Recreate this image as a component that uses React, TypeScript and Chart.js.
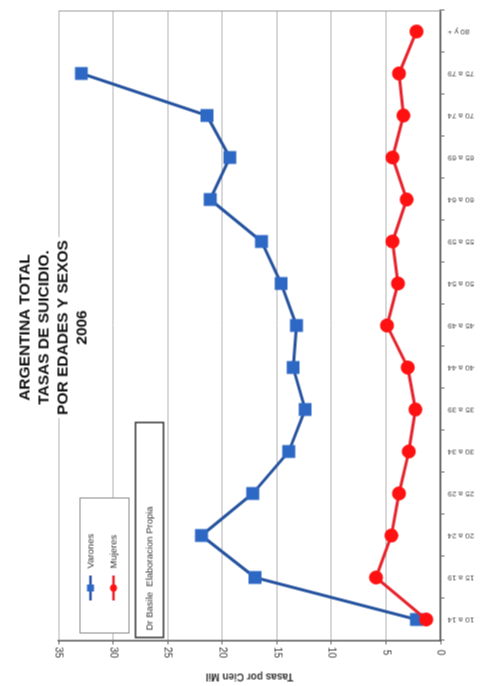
import React, { useEffect, useRef } from "react";
import { Chart, registerables } from "chart.js";

Chart.register(...registerables);

// ---- data ----
const categories = [
  "10 a 14", "15 a 19", "20 a 24", "25 a 29", "30 a 34", "35 a 39", "40 a 44",
  "45 a 49", "50 a 54", "55 a 59", "60 a 64", "65 a 69", "70 a 74", "75 a 79", "80 y +",
];
const varones: (number | null)[] = [2.2, 17.0, 21.9, 17.2, 13.9, 12.4, 13.5, 13.2, 14.6, 16.4, 21.1, 19.3, 21.4, 32.9, null];
const mujeres: number[] = [1.3, 5.9, 4.5, 3.8, 2.9, 2.3, 3.0, 4.9, 3.9, 4.4, 3.1, 4.4, 3.4, 3.8, 2.2];
const seriesNames = ["Varones", "Mujeres"];
const valueMin = 0;
const valueMax = 35;
const valueStep = 5;
const titleLines = ["ARGENTINA TOTAL", "TASAS DE SUICIDIO.", "POR EDADES Y SEXOS", "2006"];
const axisTitle = "Tasas por Cien Mil";
const sourceNote = "Dr Basile  Elaboracion Propia";

const W = 686;
const H = 493;
const FONT = '"Liberation Sans", Arial, Helvetica, sans-serif';

export default function App() {
  const ref = useRef<HTMLCanvasElement>(null);

  useEffect(() => {
    const canvas = ref.current;
    if (!canvas) return;

    const decor = {
      id: "decor",
      beforeDatasetsDraw(chart: any) {
        const { ctx, chartArea: a } = chart;
        ctx.save();
        ctx.strokeStyle = "#a0a0a0";
        ctx.lineWidth = 1;
        ctx.beginPath();
        ctx.moveTo(a.right - 0.5, a.top);
        ctx.lineTo(a.right - 0.5, a.bottom);
        ctx.stroke();
        ctx.restore();
      },
      afterDraw(chart: any) {
        const { ctx, chartArea: a } = chart;
        const ys = chart.scales.y;

        // value tick labels (upside down, as in the scanned original)
        ctx.save();
        ctx.font = `10px ${FONT}`;
        ctx.fillStyle = "#333";
        ctx.textAlign = "center";
        ctx.textBaseline = "middle";
        ys.ticks.forEach((t: any) => {
          const p = ys.getPixelForValue(t.value);
          ctx.save();
          ctx.translate(ys.right - 12, p);
          ctx.rotate(Math.PI);
          ctx.fillText(String(t.value), 0, 0);
          ctx.restore();
        });
        ctx.restore();

        // title block
        ctx.save();
        ctx.font = `bold 15.5px ${FONT}`;
        const cx = (a.left + a.right) / 2 - 2;
        const lineH = 19;
        const y0 = a.top - 33;
        let maxW = 0;
        titleLines.forEach((l) => (maxW = Math.max(maxW, ctx.measureText(l).width)));
        ctx.fillStyle = "#fff";
        ctx.fillRect(cx - maxW / 2 - 3, y0 - 10, maxW + 6, lineH * (titleLines.length - 1) + 20);
        ctx.fillStyle = "#111";
        ctx.textAlign = "center";
        ctx.textBaseline = "middle";
        titleLines.forEach((l, i) => ctx.fillText(l, cx, y0 + i * lineH));
        ctx.restore();

        // legend box
        ctx.save();
        const lx = a.left + 7;
        const ly = a.top + 21;
        const lw = 135;
        const lh = 49;
        ctx.fillStyle = "#fff";
        ctx.fillRect(lx, ly, lw, lh);
        ctx.strokeStyle = "#8a8a8a";
        ctx.lineWidth = 1;
        ctx.strokeRect(lx + 0.5, ly + 0.5, lw, lh);
        chart.data.datasets.forEach((ds: any, i: number) => {
          const ry = ly + 11 + i * 23;
          const sx = lx + 33;
          ctx.strokeStyle = ds.borderColor;
          ctx.lineWidth = 2.5;
          ctx.beginPath();
          ctx.moveTo(sx, ry);
          ctx.lineTo(sx + 25, ry);
          ctx.stroke();
          ctx.fillStyle = ds.pointBackgroundColor;
          if (ds.pointStyle === "rect") {
            ctx.fillRect(sx + 12.5 - 3.5, ry - 3.5, 7, 7);
          } else {
            ctx.beginPath();
            ctx.arc(sx + 12.5, ry, 3.6, 0, Math.PI * 2);
            ctx.fill();
          }
          ctx.fillStyle = "#333";
          ctx.font = `9.5px ${FONT}`;
          ctx.textAlign = "left";
          ctx.textBaseline = "middle";
          ctx.fillText(ds.label, sx + 32, ry);
        });
        ctx.restore();

        // source note box
        ctx.save();
        const bx = a.left + 3;
        const by = a.top + 77;
        const bw = 215;
        const bh = 28;
        ctx.fillStyle = "#fff";
        ctx.fillRect(bx, by, bw, bh);
        ctx.strokeStyle = "#333";
        ctx.lineWidth = 1.5;
        ctx.strokeRect(bx, by, bw, bh);
        ctx.fillStyle = "#333";
        ctx.font = `9.5px ${FONT}`;
        ctx.textAlign = "left";
        ctx.textBaseline = "middle";
        ctx.fillText(sourceNote, bx + 7, by + bh / 2);
        ctx.restore();
      },
    };

    const chart = new Chart(canvas, {
      type: "line",
      data: {
        labels: categories,
        datasets: [
          {
            label: seriesNames[0],
            data: varones,
            borderColor: "#25529e",
            backgroundColor: "#2d68c4",
            pointBackgroundColor: "#2d68c4",
            pointBorderColor: "#2d68c4",
            pointStyle: "rect",
            pointRadius: 7,
            borderWidth: 3,
            order: 1,
            spanGaps: false,
          },
          {
            label: seriesNames[1],
            data: mujeres,
            borderColor: "#e6222b",
            backgroundColor: "#ff1111",
            pointBackgroundColor: "#ff1111",
            pointBorderColor: "#ff1111",
            pointStyle: "circle",
            pointRadius: 5.5,
            borderWidth: 3,
            order: 0,
          },
        ],
      },
      options: {
        responsive: false,
        animation: false,
        devicePixelRatio: 1,
        layout: { padding: { top: 58, right: 9, left: 0, bottom: 0 } },
        plugins: {
          legend: { display: false },
          title: { display: false },
          tooltip: { enabled: false },
        },
        scales: {
          x: {
            type: "category",
            offset: true,
            grid: {
              display: true,
              drawOnChartArea: false,
              drawTicks: true,
              tickLength: 4,
              offset: true,
              color: "#666",
            },
            border: { display: true, color: "#555", width: 1.5 },
            ticks: {
              minRotation: 90,
              maxRotation: 90,
              autoSkip: false,
              padding: 3,
              color: "#444",
              font: { family: FONT, size: 8 },
            },
            afterFit: (s: any) => {
              s.height = 53;
            },
          },
          y: {
            min: valueMin,
            max: valueMax,
            ticks: {
              stepSize: valueStep,
              color: "rgba(0,0,0,0)",
              font: { family: FONT, size: 10 },
            },
            grid: { color: "#b4b4b4", lineWidth: 1, tickLength: 4, drawTicks: true, tickColor: "#666" },
            border: { display: true, color: "#555", width: 1.5 },
            title: {
              display: true,
              text: axisTitle,
              color: "#333",
              font: { family: FONT, size: 10, weight: "bold" },
              padding: { top: 4, bottom: 4 },
            },
            afterFit: (s: any) => {
              s.width = 46;
            },
          },
        },
      },
      plugins: [decor],
    } as any);

    return () => chart.destroy();
  }, []);

  return (
    <div style={{ position: "fixed", left: 0, top: 0, width: 493, height: 686, overflow: "hidden", background: "#fff" }}>
      <canvas
        ref={ref}
        width={W}
        height={H}
        style={{
          position: "absolute",
          width: W,
          height: H,
          left: (493 - W) / 2,
          top: (686 - H) / 2,
          transform: "rotate(-90deg)",
          transformOrigin: "50% 50%",
        }}
      />
    </div>
  );
}
